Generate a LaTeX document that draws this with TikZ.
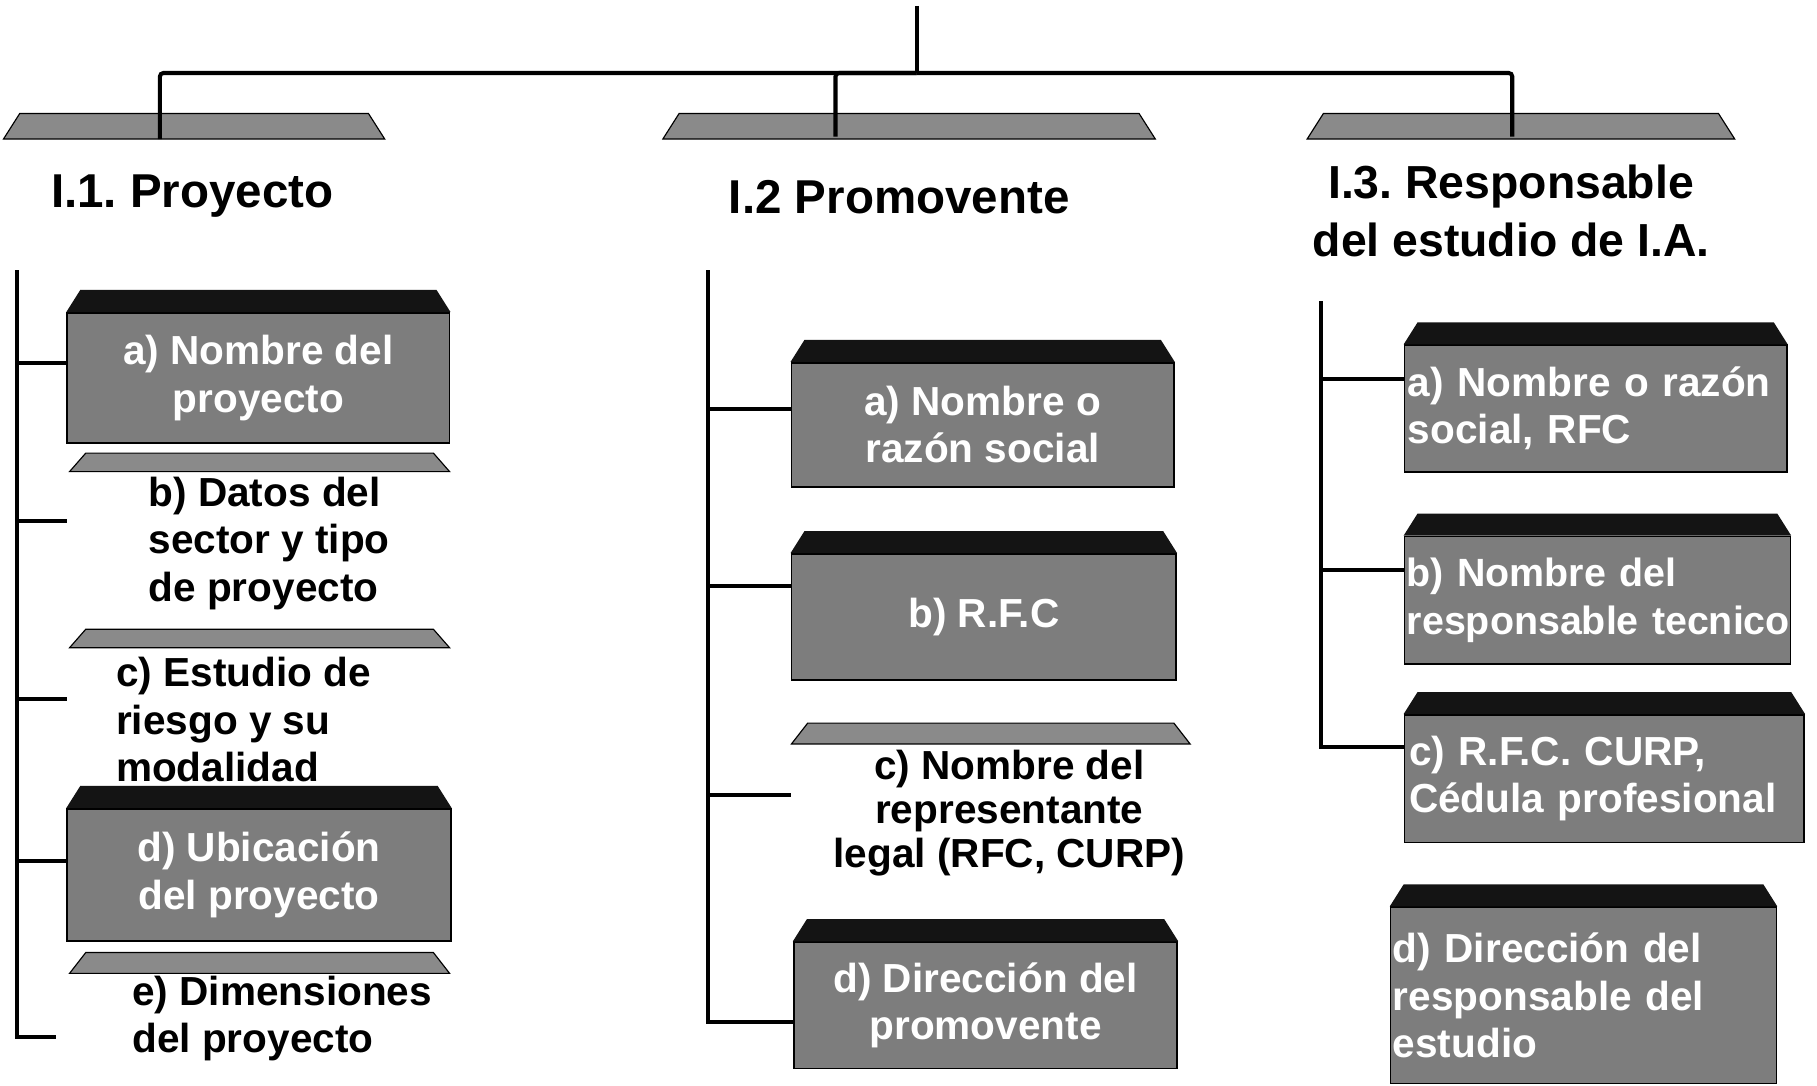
\documentclass[tikz,border=0pt]{standalone}
\usepackage{fontspec}
\setmainfont{Liberation Sans}
\definecolor{facegray}{HTML}{7D7D7D}
\definecolor{lidgray}{HTML}{8A8A8A}
\definecolor{bevelblack}{HTML}{141414}
\newcommand\itemfont{\bfseries\fontsize{35}{41}\selectfont}
\newcommand\itemfontsmall{\bfseries\fontsize{34}{42}\selectfont}
\newcommand\headfont{\bfseries\fontsize{41}{48}\selectfont}
\newcommand\headfontb{\bfseries\fontsize{40}{50}\selectfont}
\newcommand\lidtrap[4]{\filldraw[lidshape] (#1,#4) -- ({#1+14},#2) -- ({#3-14},#2) -- (#3,#4) -- cycle;}
\newcommand\bevelon[1]{\fill[bevelshape] (#1.north west) -- ([xshift=12pt,yshift=19pt]#1.north west) -- ([xshift=-12pt,yshift=19pt]#1.north east) -- (#1.north east) -- cycle;}
\hyphenpenalty=10000
\exhyphenpenalty=10000
\begin{document}
\frenchspacing
\begin{tikzpicture}[x=1pt,y=-1pt,
  conn/.style={line width=3.5pt, black},
  face/.style={draw=black, line width=1.5pt, fill=facegray, text=white, inner sep=0pt, font=\itemfont},
  lidshape/.style={fill=lidgray, draw=black, line width=1pt},
  bevelshape/.style={fill=bevelblack},
  plaintext/.style={text=black, inner sep=0pt, font=\itemfont},
  head/.style={text=black, inner sep=0pt, font=\headfont}]
\useasboundingbox (0,0) rectangle (1568,937);
\fill[white] (0,0) rectangle (1568,937);

% header lids
\lidtrap{3}{98}{332}{120}
\lidtrap{572}{98}{997}{120}
\lidtrap{1128}{98}{1497}{120}
% column 1 lids
\lidtrap{60}{391}{388}{407}
\lidtrap{60}{543}{388}{559}
\lidtrap{60}{822}{388}{840}
% column 2 lid
\lidtrap{683}{624}{1027}{642}

% headings
\node[head] (h1) at (166,169) {I.1. Proyecto};
\node[head] (h2) at (776,170) {I.2 Promovente};
\node[head, align=center, font=\headfontb] (h3) at (1304,182) {I.3. Responsable\\del estudio de I.A.};

% column 1
\node[face, minimum width=330pt, minimum height=112pt, align=center] (a1) at (223,326) {a) Nombre del\\proyecto};
\node[plaintext, anchor=west, align=left] (b1) at (128,469) {b) Datos del\\sector y tipo\\de proyecto};
\node[plaintext, anchor=west, align=left] (c1) at (100,621) {c) Estudio de\\riesgo y su\\modalidad};
\node[face, minimum width=331pt, minimum height=114pt, align=center] (d1) at (223.5,755) {d) Ubicación\\del proyecto};
\node[plaintext, anchor=west, align=left] (e1) at (114,879) {e) Dimensiones\\del proyecto};

% column 2
\node[face, minimum width=330pt, minimum height=107pt, align=center] (a2) at (848,366.5) {a) Nombre o\\razón social};
\node[face, minimum width=332pt, minimum height=109pt, align=center] (b2) at (849,532.5) {b) R.F.C};
\node[plaintext, align=center, font=\bfseries\fontsize{35}{38}\selectfont] (c2) at (871,702) {c) Nombre del\\representante\\legal (RFC, CURP)};
\node[face, minimum width=331pt, minimum height=109pt, align=center] (d2) at (850.5,867.5) {d) Dirección del\\promovente};

% column 3
\node[face, minimum width=330pt, minimum height=109pt, text width=324pt, align=left] (a3) at (1377,352.5) {a) Nombre o razón\\social, RFC};
\node[face, minimum width=333pt, minimum height=110pt, text width=329pt, align=left, font=\itemfontsmall] (b3) at (1378.5,518) {b) Nombre del\\\mbox{responsable tecnico}};
\node[face, minimum width=345pt, minimum height=110pt, text width=337pt, align=left] (c3) at (1384.5,672) {c) R.F.C. CURP,\\Cédula profesional};
\node[face, minimum width=333pt, minimum height=152pt, text width=329pt, align=left] (d3) at (1366.5,859) {d) Dirección del\\responsable del\\estudio};

% bevels
\bevelon{a1}
\bevelon{d1}
\bevelon{a2}
\bevelon{b2}
\bevelon{d2}
\bevelon{a3}
\bevelon{b3}
\bevelon{c3}
\bevelon{d3}

% top connectors
\coordinate (root) at (791,5);
\coordinate (hub) at (791,63);
\coordinate (t1) at (138,120);
\coordinate (t2) at (721,118);
\coordinate (t3) at (1305,118);
\draw[conn] (root) -- (hub);
\draw[conn, rounded corners=3pt] (hub) -| (t1);
\draw[conn, rounded corners=3pt] (hub) -| (t2);
\draw[conn, rounded corners=3pt] (hub) -| (t3);

% column 1 connectors
\coordinate (k1) at (15,233);
\coordinate (b1in) at (58,450);
\coordinate (c1in) at (58,603);
\coordinate (e1in) at (48,895);
\draw[conn] (k1) |- ([yshift=13pt]a1.west);
\draw[conn] (k1) |- (b1in);
\draw[conn] (k1) |- (c1in);
\draw[conn] (k1) |- ([yshift=12pt]d1.west);
\draw[conn] (k1) |- (e1in);

% column 2 connectors
\coordinate (k2) at (611,233);
\coordinate (c2in) at (683,686);
\draw[conn] (k2) |- ([yshift=13.5pt]a2.west);
\draw[conn] (k2) |- ([yshift=26.5pt]b2.west);
\draw[conn] (k2) |- (c2in);
\draw[conn] (k2) |- ([yshift=-14.5pt]d2.west);

% column 3 connectors
\coordinate (k3) at (1140,260);
\draw[conn] (k3) |- ([yshift=25.5pt]a3.west);
\draw[conn] (k3) |- ([yshift=26pt]b3.west);
\draw[conn] (k3) |- ([yshift=27pt]c3.west);
\end{tikzpicture}
\end{document}
